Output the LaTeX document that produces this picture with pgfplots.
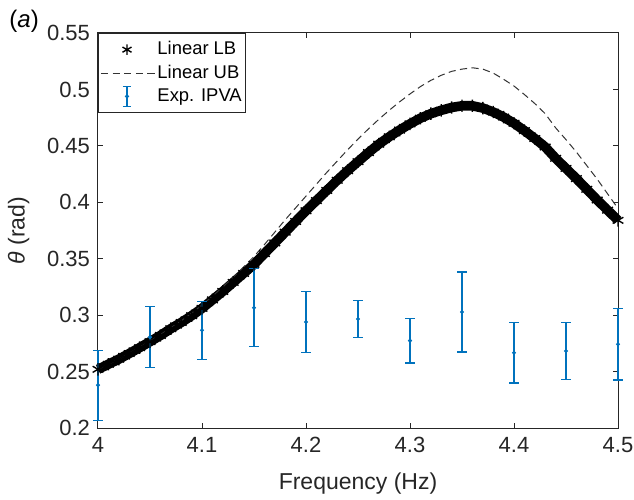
\documentclass[border=0pt]{standalone}
\usepackage{fontspec}
\setmainfont{Liberation Sans}
\usepackage{pgfplots}
\usepackage{pgfplotstable}
\pgfplotsset{compat=1.18}
\definecolor{mblue}{rgb}{0,0.447,0.741}
\definecolor{axgray}{rgb}{0.15,0.15,0.15}

\pgfplotstableread{
x y
4.00 0.2520
4.01 0.2565
4.02 0.2610
4.03 0.2660
4.04 0.2712
4.05 0.2765
4.06 0.2820
4.07 0.2880
4.08 0.2935
4.09 0.2995
4.10 0.3060
4.11 0.3135
4.12 0.3210
4.13 0.3290
4.14 0.3370
4.15 0.3450
4.16 0.3545
4.17 0.3640
4.18 0.3735
4.19 0.3830
4.20 0.3925
4.21 0.4015
4.22 0.4105
4.23 0.4195
4.24 0.4280
4.25 0.4360
4.26 0.4440
4.27 0.4515
4.28 0.4580
4.29 0.4640
4.30 0.4695
4.31 0.4745
4.32 0.4785
4.33 0.4815
4.34 0.4840
4.35 0.4855
4.36 0.4855
4.37 0.4835
4.38 0.4800
4.39 0.4755
4.40 0.4700
4.41 0.4635
4.42 0.4565
4.43 0.4490
4.44 0.4390
4.45 0.4300
4.46 0.4210
4.47 0.4115
4.48 0.4020
4.49 0.3930
4.50 0.3840
}\lbdata

\pgfplotstableread{
x y
4.00 0.2520
4.01 0.2565
4.02 0.2610
4.03 0.2662
4.04 0.2715
4.05 0.2770
4.06 0.2828
4.07 0.2888
4.08 0.2950
4.09 0.3018
4.10 0.3090
4.11 0.3168
4.12 0.3250
4.13 0.3336
4.14 0.3426
4.15 0.3520
4.16 0.3625
4.17 0.3735
4.18 0.3845
4.19 0.3950
4.20 0.4055
4.21 0.4160
4.22 0.4265
4.23 0.4365
4.24 0.4465
4.25 0.4560
4.26 0.4650
4.27 0.4735
4.28 0.4815
4.29 0.4890
4.30 0.4960
4.31 0.5025
4.32 0.5080
4.33 0.5125
4.34 0.5160
4.35 0.5180
4.36 0.5192
4.37 0.5180
4.38 0.5145
4.39 0.5090
4.40 0.5030
4.41 0.4955
4.42 0.4875
4.43 0.4785
4.44 0.4660
4.45 0.4555
4.46 0.4445
4.47 0.4325
4.48 0.4205
4.49 0.4075
4.50 0.3945
}\ubdata

\pgfplotstableread{
x y e
4.00 0.2380 0.0310
4.05 0.2805 0.0270
4.10 0.2866 0.0256
4.15 0.3066 0.0346
4.20 0.2939 0.0270
4.25 0.2966 0.0162
4.30 0.2774 0.0198
4.35 0.3028 0.0354
4.40 0.2667 0.0268
4.45 0.2682 0.0252
4.50 0.2742 0.0316
}\expdata

\begin{document}
\begin{tikzpicture}
\begin{axis}[
  name=ax,
  width=260pt, height=197.5pt, scale only axis,
  xmin=4, xmax=4.5, ymin=0.2, ymax=0.55,
  xtick={4,4.1,4.2,4.3,4.4,4.5},
  ytick={0.2,0.25,0.3,0.35,0.4,0.45,0.5,0.55},
  tick align=inside,
  major tick length=2.6pt,
  axis line style={axgray, line width=0.5pt},
  tick style={axgray, line width=0.5pt},
  every tick label/.append style={text=axgray},
  tick label style={font=\fontsize{11}{13}\selectfont},
  /pgf/number format/assume math mode=true,
  yticklabel style={/pgf/number format/fixed, /pgf/number format/precision=2, xshift=-0.5pt},
  xticklabel style={/pgf/number format/fixed, /pgf/number format/precision=1, yshift=-1pt},
  label style={font=\fontsize{11.5}{13}\selectfont, text=axgray},
  xlabel={Frequency (Hz)},
  ylabel={\textit{θ} (rad)},
  xlabel style={yshift=-3pt},
  ylabel style={yshift=2pt},
  clip=false,
  legend style={at={(0,1)}, anchor=north west, draw=axgray, line width=0.5pt, fill=white,
    font=\fontsize{9.2}{10}\selectfont, row sep=-0.4pt, inner xsep=1pt, inner ysep=2pt,
    nodes={inner xsep=1pt}},
  legend cell align=left,
]
\addplot[black, line width=4.8pt, mark=asterisk, mark size=3.1pt,
  mark options={line width=0.7pt, solid},
  legend image code/.code={\draw[black, line width=0.6pt] plot[only marks, mark=asterisk, mark size=2.6pt] coordinates {(13pt,0pt)};}]
  table[x=x, y=y] {\lbdata};
\addlegendentry{Linear LB}
\addplot[black!80, line width=0.5pt, dash pattern=on 3.6pt off 2.2pt,
  legend image code/.code={\draw[black!80, line width=0.5pt, dash pattern=on 3.6pt off 2.2pt] (0pt,0pt) -- (27pt,0pt);}]
  table[x=x, y=y] {\ubdata};
\addlegendentry{Linear UB}
\addplot[mblue, only marks, mark=*, mark size=0.8pt,
  error bars/.cd, y dir=both, y explicit,
  error bar style={mblue, line width=0.6pt},
  error mark options={mblue, mark size=2.3pt, line width=0.6pt, rotate=90},
  /pgfplots/legend image code/.code={
    \draw[mblue, line width=0.6pt] (13pt,-5pt) -- (13pt,5pt);
    \draw[mblue, line width=0.6pt] (11pt,-5pt) -- (15pt,-5pt);
    \draw[mblue, line width=0.6pt] (11pt,5pt) -- (15pt,5pt);
    \fill[mblue] (13pt,0pt) circle (0.8pt);}]
  table[x=x, y=y, y error=e] {\expdata};
\addlegendentry{Exp. IPVA}
\node[font=\fontsize{12}{14}\selectfont, text=black] at (rel axis cs:-0.142,1.03) {(\textit{a})};
\end{axis}
\pgfresetboundingbox
\path[use as bounding box] ([xshift=-49pt, yshift=-35.5pt]ax.south west) rectangle ([xshift=8pt, yshift=16.5pt]ax.north east);
\end{tikzpicture}
\end{document}
